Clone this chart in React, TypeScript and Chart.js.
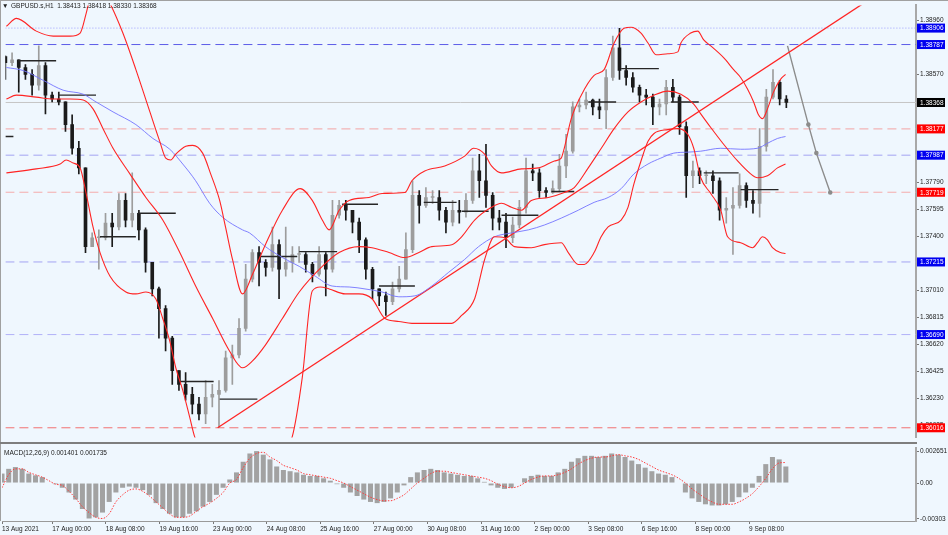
import React, { useEffect, useRef } from 'react';
import { Chart, registerables } from 'chart.js';

Chart.register(...registerables);

const W = 948;
const H = 535;
const MAIN_H = 443;
const X_MAX = 545.7;
const FONT = '"Liberation Sans", "DejaVu Sans", Arial, sans-serif';
const BG = '#eff7fe';

const hoursPerCandle = 4;
const firstOpen = 1.387;

const candleHigh = [
  1.38706, 1.38727, 1.38677, 1.38642, 1.38606, 1.38777, 1.38656, 1.38443, 1.38443, 1.38372,
  1.38279, 1.38087, 1.37895, 1.37425, 1.37447, 1.37567, 1.37567, 1.3771, 1.3771, 1.37859,
  1.37589, 1.37461, 1.37212, 1.37034, 1.36899, 1.36678, 1.36429, 1.36415, 1.36308, 1.36237,
  1.36358, 1.3633, 1.36358, 1.36571, 1.36614, 1.36806, 1.37197, 1.37304, 1.37326, 1.37233,
  1.37468, 1.37375, 1.37468, 1.37326, 1.37326, 1.37283, 1.37212, 1.37326, 1.37283, 1.3766,
  1.3766, 1.3766, 1.37589, 1.37532, 1.3739, 1.37176, 1.3702, 1.36998, 1.3707, 1.37183,
  1.37425, 1.37802, 1.37731, 1.37753, 1.37731, 1.37731, 1.3761, 1.3766, 1.3766, 1.3771,
  1.37966, 1.37994, 1.38066, 1.37717, 1.37589, 1.37567, 1.37539, 1.3766, 1.37966, 1.37923,
  1.37888, 1.37753, 1.37802, 1.37994, 1.38137, 1.38372, 1.38393, 1.38443, 1.38393, 1.38393,
  1.38606, 1.38848, 1.38905, 1.38635, 1.38585, 1.38493, 1.38464, 1.38428, 1.38393, 1.38528,
  1.38535, 1.38421, 1.38229, 1.37945, 1.37895, 1.37873, 1.37873, 1.37824, 1.37681, 1.37753,
  1.37852, 1.37788, 1.37731, 1.38179, 1.38464, 1.38606, 1.38528, 1.38418,
];

const candleLow = [
  1.38535, 1.38635, 1.38443, 1.38535, 1.38421, 1.38457, 1.38286, 1.38372, 1.3835, 1.38158,
  1.37994, 1.37852, 1.37283, 1.37326, 1.37162, 1.37375, 1.37326, 1.37447, 1.37468, 1.37468,
  1.37375, 1.37141, 1.3697, 1.36664, 1.36571, 1.3633, 1.36287, 1.36216, 1.36116, 1.36073,
  1.36045, 1.36166, 1.36016, 1.36273, 1.3633, 1.36522, 1.36714, 1.3707, 1.37041, 1.37112,
  1.37148, 1.36949, 1.37112, 1.37141, 1.37212, 1.37141, 1.3707, 1.37112, 1.3697, 1.37141,
  1.37532, 1.37518, 1.37425, 1.37283, 1.37091, 1.36949, 1.36899, 1.36828, 1.36906, 1.36998,
  1.37091, 1.37283, 1.37496, 1.3761, 1.37639, 1.37518, 1.37425, 1.37475, 1.37496, 1.37539,
  1.37639, 1.37681, 1.3761, 1.37447, 1.37447, 1.37318, 1.37354, 1.37461, 1.37567, 1.37802,
  1.37681, 1.37681, 1.3771, 1.37731, 1.37824, 1.38002, 1.383, 1.38322, 1.38279, 1.38251,
  1.38179, 1.38528, 1.38535, 1.38493, 1.38443, 1.38372, 1.3835, 1.38208, 1.38279, 1.38279,
  1.38372, 1.38137, 1.37681, 1.37753, 1.37781, 1.37781, 1.3771, 1.37518, 1.37496, 1.37269,
  1.37603, 1.3761, 1.37567, 1.37539, 1.38016, 1.38393, 1.3835, 1.3833,
];

const candleClose = [
  1.38656, 1.38677, 1.38621, 1.38571, 1.38493, 1.38635, 1.38421, 1.38393, 1.38372, 1.38208,
  1.38037, 1.37895, 1.37326, 1.3739, 1.3739, 1.37496, 1.37468, 1.3766, 1.37518, 1.37567,
  1.37447, 1.37212, 1.3702, 1.36877, 1.36664, 1.36429, 1.3633, 1.36258, 1.36187, 1.36116,
  1.36237, 1.36258, 1.36287, 1.36522, 1.36543, 1.36735, 1.37091, 1.37283, 1.37212, 1.37176,
  1.3734, 1.37162, 1.37212, 1.37269, 1.37269, 1.37197, 1.37126, 1.37269, 1.37162, 1.37553,
  1.37624, 1.37589, 1.37503, 1.37375, 1.37162, 1.3702, 1.3697, 1.36927, 1.3702, 1.37091,
  1.37304, 1.37696, 1.37624, 1.37681, 1.37681, 1.37589, 1.37503, 1.37589, 1.37575, 1.3766,
  1.37873, 1.37802, 1.37696, 1.37532, 1.37503, 1.3739, 1.37482, 1.3761, 1.37873, 1.37859,
  1.37731, 1.37717, 1.37745, 1.37909, 1.38016, 1.38336, 1.3835, 1.38386, 1.38336, 1.38315,
  1.38549, 1.38763, 1.38599, 1.38549, 1.38478, 1.38421, 1.38407, 1.38336, 1.38357, 1.38478,
  1.38407, 1.38194, 1.37838, 1.37873, 1.37838, 1.37838, 1.37802, 1.37589, 1.37603, 1.37624,
  1.37767, 1.3766, 1.37639, 1.38051, 1.38407, 1.38514, 1.38393, 1.38368,
];

const macdHist = [
  0.0008, 0.0012, 0.00135, 0.0012, 0.0008, 0.00065, 0.0005, 0.0, -0.0001, -0.0004,
  -0.0008, -0.0014, -0.0022, -0.003, -0.0029, -0.0025, -0.0016, -0.0008, -0.0004, -0.0003,
  -0.0004, -0.0006, -0.001, -0.0017, -0.0022, -0.0026, -0.0029, -0.0029, -0.0026, -0.0024,
  -0.002, -0.0016, -0.001, -0.0004, 0.0003, 0.0009, 0.0018, 0.0025, 0.0027, 0.0024,
  0.002, 0.0014, 0.0011, 0.001, 0.0009, 0.0007, 0.0006, 0.0006, 0.0004, 0.0002,
  -0.0001, -0.0004, -0.0008, -0.0011, -0.0014, -0.0016, -0.0017, -0.0016, -0.0013, -0.0008,
  -0.0002, 0.0005, 0.0009, 0.0011, 0.0012, 0.0011, 0.0009, 0.0008, 0.0007, 0.0006,
  0.0006, 0.0004, 0.0001, -0.0002, -0.0004, -0.0005, -0.0004, 0.0, 0.0004, 0.0006,
  0.0007, 0.0006, 0.0006, 0.0009, 0.0012, 0.0018, 0.0021, 0.0023, 0.0023, 0.0022,
  0.0023, 0.0025, 0.0024, 0.0022, 0.0019, 0.0016, 0.0013, 0.001, 0.0008, 0.0007,
  0.0005, 0.0, -0.0008, -0.0013, -0.0016, -0.0018, -0.0019, -0.0019, -0.0018, -0.0016,
  -0.0012, -0.0008, -0.0004, 0.0006, 0.0016, 0.0022, 0.002, 0.0014,
];

const macdSignal = [
  -0.0004, 0.0007, 0.0012, 0.0012, 0.0009, 0.0007, 0.0005, 0.0002, -0.0001, -0.0002,
  -0.0007, -0.0013, -0.002, -0.0025, -0.0029, -0.003, -0.0026, -0.0016, -0.001, -0.0006,
  -0.0005, -0.0007, -0.0011, -0.0016, -0.0021, -0.0026, -0.0029, -0.0029, -0.0028, -0.0024,
  -0.002, -0.0017, -0.0013, -0.0008, 0.0, 0.0003, 0.0013, 0.0021, 0.0025, 0.0026,
  0.0022, 0.0019, 0.0015, 0.0013, 0.0011, 0.0008, 0.0007, 0.0006, 0.0005, 0.0004,
  0.0002, 0.0, -0.0003, -0.0006, -0.0009, -0.0012, -0.0014, -0.0015, -0.0015, -0.0013,
  -0.001, -0.0005, 0.0, 0.0004, 0.0008, 0.001, 0.001, 0.0009, 0.0008, 0.0007,
  0.0006, 0.0005, 0.0004, 0.0002, -0.0001, -0.0003, -0.0004, -0.0003, 0.0, 0.0003,
  0.0005, 0.0006, 0.0006, 0.0007, 0.0009, 0.0012, 0.0016, 0.0019, 0.0021, 0.0022,
  0.0022, 0.0023, 0.0024, 0.0023, 0.0022, 0.002, 0.0017, 0.0014, 0.0011, 0.0009,
  0.0007, 0.0004, 0.0, -0.0005, -0.0009, -0.0013, -0.0016, -0.0018, -0.0018, -0.0018,
  -0.0016, -0.0013, -0.0009, -0.0003, 0.0004, 0.0012, 0.0017, 0.001735,
];

// [hour, price] traced points
const bbUpper: number[][] = [
  [0.6, 1.38919], [6.6, 1.38976], [18.5, 1.38884], [28.7, 1.38848], [38.8, 1.38848], [44.8, 1.3887],
  [48.4, 1.39012], [51.3, 1.39154], [55.5, 1.39261], [59.1, 1.39154], [62.7, 1.39083], [70.4, 1.3887],
  [78.2, 1.38606], [86.6, 1.383], [92.5, 1.38087], [96.1, 1.37966], [99.1, 1.37952], [102.1, 1.37994],
  [108.1, 1.38051], [112.2, 1.38058], [118.2, 1.38002], [123, 1.37852], [128.4, 1.3766], [131.9, 1.37468],
  [136.1, 1.37233], [142.1, 1.36984], [148.1, 1.37126], [155.8, 1.3734], [166, 1.37589], [176.7, 1.37745],
  [183.9, 1.3766], [189.9, 1.37518], [194, 1.37447], [200, 1.37589], [206, 1.3766], [217.9, 1.37681],
  [225.7, 1.3771], [239.4, 1.37717], [243.6, 1.37802], [251.3, 1.37873], [263.3, 1.37909], [275.2, 1.3798],
  [280.6, 1.38037], [287.2, 1.37994], [291.3, 1.37909], [297.3, 1.37859], [309.3, 1.37888], [319.4, 1.37895],
  [329, 1.37945], [333.1, 1.37966], [334.9, 1.38037], [339.1, 1.38251], [345.1, 1.38421], [352.8, 1.38564],
  [358.8, 1.38606], [364.8, 1.38798], [370.7, 1.38905], [374.9, 1.38912], [380.9, 1.3887], [385.1, 1.38798],
  [389.9, 1.38713], [397, 1.3872], [403, 1.38734], [404.8, 1.38798], [410.7, 1.3887], [414.9, 1.38884],
  [418.5, 1.3882], [422.7, 1.38777], [430.4, 1.38692], [436.4, 1.38606], [440.6, 1.38549], [444.8, 1.38464],
  [448.4, 1.38372], [451.3, 1.38279], [453.7, 1.38251], [456.7, 1.38322], [460.3, 1.38443], [464.5, 1.38535],
  [467.5, 1.38571],
];

const bbMiddle: number[][] = [
  [0.6, 1.38393], [6.6, 1.38421], [18.5, 1.38407], [28.7, 1.38393], [38.8, 1.38393], [46.6, 1.38386],
  [52.5, 1.38322], [58.5, 1.38179], [64.5, 1.38037], [74.6, 1.37852], [84.2, 1.37681], [94.3, 1.37518],
  [104.5, 1.37283], [114, 1.37041], [124.2, 1.36806], [134.3, 1.36571], [142.1, 1.3645], [148.1, 1.365],
  [155.8, 1.36614], [166, 1.36806], [176.1, 1.36998], [189.9, 1.37183], [200, 1.37283], [211.9, 1.37326],
  [219.7, 1.37318], [229.9, 1.37283], [239.4, 1.37247], [247.8, 1.37283], [255.5, 1.37326], [267.5, 1.3734],
  [273.4, 1.37397], [281.2, 1.37518], [291.3, 1.3761], [297.3, 1.37639], [303.3, 1.3761], [309.3, 1.37589],
  [315.2, 1.3766], [325.4, 1.37681], [334.9, 1.37717], [340.9, 1.37753], [349.3, 1.37895], [357.1, 1.38037],
  [364.8, 1.38179], [373.1, 1.383], [380.9, 1.38372], [388.7, 1.38421], [397, 1.3845], [404.8, 1.38428],
  [412.5, 1.38357], [416.7, 1.38286], [422.7, 1.38187], [430.4, 1.38066], [438.8, 1.37945], [446.6, 1.37852],
  [450.7, 1.37824], [456.7, 1.37838], [462.7, 1.37895], [467.5, 1.37923],
];

const bbLower: number[][] = [
  [0.6, 1.37859], [18.5, 1.37888], [32.8, 1.37923], [36.4, 1.37952], [40.6, 1.3793], [44.8, 1.37895],
  [48.4, 1.3771], [52.5, 1.37468], [56.7, 1.37283], [62.7, 1.37112], [72.2, 1.36998], [78.2, 1.36984],
  [84.2, 1.36998], [90.1, 1.36949], [94.3, 1.36806], [98.5, 1.36643], [102.1, 1.3645], [106.3, 1.36287],
  [110.4, 1.36095], [113.4, 1.35952], [121.2, 1.35739], [136.1, 1.35668], [154, 1.35739], [167.2, 1.35881],
  [171.9, 1.35952], [177.9, 1.36379], [183.9, 1.37005], [188.7, 1.37034], [194, 1.3702], [203.6, 1.36984],
  [211.9, 1.36984], [219.7, 1.36949], [227.5, 1.36806], [235.8, 1.36785], [243.6, 1.36771], [255.5, 1.36771],
  [267.5, 1.36771], [273.4, 1.36828], [281.2, 1.36949], [287.2, 1.37233], [293.1, 1.37397], [299.1, 1.3739],
  [305.1, 1.37326], [315.2, 1.37318], [323, 1.3734], [333.1, 1.37354], [337.3, 1.37283], [343.3, 1.37197],
  [346.9, 1.37197], [352.8, 1.37283], [357, 1.37397], [361.2, 1.37468], [369, 1.37518], [373.1, 1.3761],
  [376.7, 1.37781], [380.9, 1.37945], [385.1, 1.38087], [388.7, 1.38144], [397, 1.38172], [403, 1.38179],
  [409, 1.38137], [412.5, 1.38037], [416.7, 1.37824], [422.7, 1.3771], [428.7, 1.37589], [432.8, 1.37397],
  [440.6, 1.37354], [447.8, 1.37318], [450.7, 1.37354], [453.7, 1.37397], [456.7, 1.37375], [459.7, 1.37318],
  [464.5, 1.37283], [467.5, 1.37276],
];

const blueMA: number[][] = [
  [0.6, 1.38621], [10.7, 1.38599], [22.7, 1.38528], [34.6, 1.38457], [46.6, 1.38428], [54.3, 1.38372],
  [64.5, 1.383], [78.2, 1.38208], [88.4, 1.38108], [98.5, 1.3803], [106.3, 1.37923], [114, 1.37802],
  [122.4, 1.37639], [130.1, 1.37539], [142.1, 1.37447], [146.3, 1.37425], [155.8, 1.37326], [166, 1.37247],
  [176.1, 1.37183], [185.7, 1.37112], [195.8, 1.37041], [206, 1.37034], [215.5, 1.3702], [225.7, 1.36998],
  [235.8, 1.36963], [245.4, 1.3697], [255.5, 1.37041], [265.7, 1.37141], [275.2, 1.37233], [283.6, 1.37326],
  [293.1, 1.37397], [303.3, 1.37425], [313.4, 1.37447], [323, 1.37482], [333.1, 1.37532], [343.3, 1.37589],
  [352.8, 1.37646], [361.2, 1.37681], [369, 1.37745], [376.7, 1.37852], [385.1, 1.37923], [392.8, 1.37966],
  [400.6, 1.38002], [409, 1.38009], [416.7, 1.38016], [428.7, 1.38037], [440.6, 1.3803], [450.7, 1.38037],
  [456.7, 1.38073], [462.7, 1.38108], [467.5, 1.38122],
];

const trendLine: number[][] = [[127.2, 1.36016], [514, 1.39083]];
const projection: number[][] = [[468.7, 1.38777], [481.2, 1.38208], [486, 1.38002], [494.3, 1.37717]];

// [startHour, endHour, price]
const blackSegments: number[][] = [
  [0, 4.8, 1.38122], [7.8, 30.4, 1.3867], [31.6, 54.3, 1.38421], [56.7, 78.2, 1.37397],
  [79.4, 102.1, 1.37567], [104.5, 124.8, 1.36351], [128.4, 151, 1.36223], [152.2, 174.9, 1.37254],
  [176.1, 198.8, 1.3729], [201.8, 223.3, 1.37632], [223.9, 245.4, 1.37041], [250.7, 270.4, 1.37646],
  [273.4, 289.6, 1.37582], [297.3, 319.4, 1.37553], [327.2, 340.9, 1.37724], [349.3, 366, 1.38372],
  [369, 391.6, 1.38613], [398.8, 415.5, 1.38372], [418.5, 439.4, 1.37859], [440.6, 463.3, 1.37738],
];

const levelValues = [1.38906, 1.38787, 1.38368, 1.38177, 1.37987, 1.37719, 1.37215, 1.3669, 1.36016];
const levelLineColors = ['#9c9cff', '#5c5ce8', '#c6c6c6', '#f3a3a3', '#a4a4f2', '#f5abab', '#a4a4f2', '#b2b2f8', '#f27272'];
const levelDashes = [[1, 2], [9, 5], [], [9, 5], [9, 5], [9, 5], [9, 5], [9, 5], [9, 5]];
const levelTagColors = ['#0000f0', '#0000f0', '#000000', '#ff0000', '#0000f0', '#ff0000', '#0000f0', '#0000f0', '#ff0000'];

const priceTicks = [
  1.36035, 1.3623, 1.36425, 1.3662, 1.36815, 1.3701, 1.37205, 1.374, 1.37595, 1.3779,
  1.37985, 1.3818, 1.38375, 1.3857, 1.38765, 1.3896,
];
const macdTicks = [-0.00303, 0, 0.002651];
const macdTickLabels = ['-0.00303', '0.00', '0.002651'];

const xTickHours = [0, 30, 62, 94, 126, 158, 190, 222, 254, 286, 318, 350, 382, 414, 446];
const xTickLabels = [
  '13 Aug 2021', '17 Aug 00:00', '18 Aug 08:00', '19 Aug 16:00', '23 Aug 00:00', '24 Aug 08:00',
  '25 Aug 16:00', '27 Aug 00:00', '30 Aug 08:00', '31 Aug 16:00', '2 Sep 00:00', '3 Sep 08:00',
  '6 Sep 16:00', '8 Sep 00:00', '9 Sep 08:00',
];

const headerText = 'GBPUSD.s,H1  1.38413 1.38418 1.38330 1.38368';
const macdLabel = 'MACD(12,26,9) 0.001401 0.001735';

const toXY = (pts: number[][]) => pts.map((p) => ({ x: p[0], y: p[1] }));

export default function App() {
  const mainRef = useRef<HTMLCanvasElement>(null);
  const macdRef = useRef<HTMLCanvasElement>(null);

  useEffect(() => {
    const xs = candleClose.map((_, i) => i * hoursPerCandle);
    const opens = candleClose.map((c, i) => (i === 0 ? firstOpen : candleClose[i - 1]));
    const colorAt = (i: number) => (candleClose[i] >= opens[i] ? '#9d9d9d' : '#1b1b1b');

    const lineDs = (data: number[][], color: string, width: number) => ({
      type: 'line' as const,
      data: toXY(data),
      borderColor: color,
      borderWidth: width,
      pointRadius: 0,
      cubicInterpolationMode: 'monotone' as const,
      fill: false,
      order: 1,
    });

    const levelDs = levelValues.map((v, i) => ({
      type: 'line' as const,
      data: [{ x: 0, y: v }, { x: X_MAX, y: v }],
      borderColor: levelLineColors[i],
      borderDash: levelDashes[i],
      borderWidth: 1,
      pointRadius: 0,
      order: 3,
    }));

    const segDs = blackSegments.map((s) => ({
      type: 'line' as const,
      data: [{ x: s[0], y: s[2] }, { x: s[1], y: s[2] }],
      borderColor: '#262626',
      borderWidth: 1.4,
      pointRadius: 0,
      order: 1,
    }));

    const tagPlugin = {
      id: 'tags',
      afterDraw(chart: any) {
        const ctx = chart.ctx;
        const ys = chart.scales.y;
        const left = chart.chartArea.right + 1;
        ctx.save();
        ctx.font = `6.5px ${FONT}`;
        ctx.textBaseline = 'middle';
        levelValues.forEach((v, i) => {
          const y = ys.getPixelForValue(v);
          ctx.fillStyle = levelTagColors[i];
          ctx.fillRect(left, y - 4.5, 28, 9);
          ctx.fillStyle = '#ffffff';
          ctx.fillText(v.toFixed(5), left + 3, y + 0.5);
        });
        ctx.fillStyle = '#222';
        ctx.font = `6.5px ${FONT}`;
        ctx.textBaseline = 'top';
        ctx.fillText('\u25BC', 2, 3);
        ctx.fillText(headerText, 11, 3);
        ctx.restore();
      },
    };

    const mainChart = new Chart(mainRef.current as HTMLCanvasElement, {
      type: 'line',
      data: {
        datasets: [
          lineDs(bbUpper, '#ff2424', 1.1),
          lineDs(bbMiddle, '#ff2424', 1.1),
          lineDs(bbLower, '#ff2424', 1.1),
          lineDs(blueMA, '#7474ff', 0.9),
          {
            type: 'line',
            data: toXY(trendLine),
            borderColor: '#ff2424',
            borderWidth: 1.3,
            pointRadius: 0,
            order: 1,
          },
          {
            type: 'line',
            data: toXY(projection),
            borderColor: '#8c8c8c',
            backgroundColor: '#8c8c8c',
            borderWidth: 1.4,
            pointRadius: [0, 1.6, 1.6, 1.6],
            order: 1,
          },
          ...segDs,
          {
            type: 'bar',
            data: xs.map((x, i) => ({
              x,
              y: [
                Math.min(candleLow[i], opens[i], candleClose[i]),
                Math.max(candleHigh[i], opens[i], candleClose[i]),
              ],
            })),
            backgroundColor: (c: any) => colorAt(c.dataIndex),
            barThickness: 1,
            grouped: false,
            order: 2,
          },
          {
            type: 'bar',
            data: xs.map((x, i) => ({ x, y: [opens[i], candleClose[i]] })),
            backgroundColor: (c: any) => colorAt(c.dataIndex),
            barThickness: 3,
            minBarLength: 1,
            grouped: false,
            order: 2,
          },
          ...levelDs,
        ] as any,
      },
      options: {
        animation: false,
        responsive: false,
        devicePixelRatio: 1,
        events: [],
        layout: { padding: { left: 2, top: 2, right: 0, bottom: 2 } },
        plugins: { legend: { display: false }, tooltip: { enabled: false } },
        scales: {
          x: { type: 'linear', min: 0, max: X_MAX, offset: false, display: false, grid: { offset: false } },
          y: {
            type: 'linear',
            position: 'right',
            min: 1.35945,
            max: 1.3907,
            afterFit: (s: any) => {
              s.width = 32;
            },
            afterBuildTicks: (s: any) => {
              s.ticks = priceTicks.map((v) => ({ value: v }));
            },
            ticks: {
              font: { family: FONT, size: 6.5 },
              color: '#222',
              padding: 1,
              callback: (v: any) => Number(v).toFixed(5),
            },
            grid: { drawOnChartArea: false, drawTicks: true, tickLength: 3, color: '#777' },
            border: { display: true, color: '#a8a8a8', width: 2 },
          },
        },
      } as any,
      plugins: [tagPlugin],
    });

    const macdLabelPlugin = {
      id: 'macdLabel',
      afterDraw(chart: any) {
        const ctx = chart.ctx;
        ctx.save();
        ctx.fillStyle = '#222';
        ctx.font = `6.5px ${FONT}`;
        ctx.textBaseline = 'top';
        ctx.fillText(macdLabel, 4, chart.chartArea.top + 2);
        ctx.restore();
      },
    };

    const macdChart = new Chart(macdRef.current as HTMLCanvasElement, {
      type: 'line',
      data: {
        datasets: [
          {
            type: 'line',
            data: xs.map((x, i) => ({ x, y: macdSignal[i] })),
            borderColor: '#ff3a3a',
            borderWidth: 1,
            borderDash: [1.5, 1.5],
            pointRadius: 0,
            cubicInterpolationMode: 'monotone',
            order: 1,
          },
          {
            type: 'bar',
            data: xs.map((x, i) => ({ x, y: macdHist[i] })),
            backgroundColor: '#a2a2a2',
            barPercentage: 0.75,
            categoryPercentage: 1,
            order: 2,
          },
        ] as any,
      },
      options: {
        animation: false,
        responsive: false,
        devicePixelRatio: 1,
        events: [],
        layout: { padding: { left: 2, top: 1, right: 0, bottom: 0 } },
        plugins: { legend: { display: false }, tooltip: { enabled: false } },
        scales: {
          x: {
            type: 'linear',
            min: 0,
            max: X_MAX,
            offset: false,
            position: 'bottom',
            afterFit: (s: any) => {
              s.height = 14;
            },
            afterBuildTicks: (s: any) => {
              s.ticks = xTickHours.map((v) => ({ value: v }));
            },
            ticks: {
              autoSkip: false,
              maxRotation: 0,
              align: 'start',
              font: { family: FONT, size: 6.5 },
              color: '#222',
              padding: 1,
              callback: (_v: any, i: number) => xTickLabels[i],
            },
            grid: { offset: false, drawOnChartArea: false, drawTicks: true, tickLength: 3, color: '#777' },
            border: { display: true, color: '#9a9a9a', width: 1 },
          },
          y: {
            type: 'linear',
            position: 'right',
            min: -0.003213,
            max: 0.002972,
            afterFit: (s: any) => {
              s.width = 32;
            },
            afterBuildTicks: (s: any) => {
              s.ticks = macdTicks.map((v) => ({ value: v }));
            },
            ticks: {
              font: { family: FONT, size: 6.5 },
              color: '#222',
              padding: 1,
              callback: (_v: any, i: number) => macdTickLabels[i],
            },
            grid: { drawOnChartArea: false, drawTicks: true, tickLength: 3, color: '#777' },
            border: { display: true, color: '#a8a8a8', width: 2 },
          },
        },
      } as any,
      plugins: [macdLabelPlugin],
    });

    return () => {
      mainChart.destroy();
      macdChart.destroy();
    };
  }, []);

  return (
    <div
      style={{
        position: 'fixed',
        left: 0,
        top: 0,
        width: W,
        height: H,
        background: BG,
        overflow: 'hidden',
      }}
    >
      <canvas ref={mainRef} width={W} height={MAIN_H} style={{ position: 'absolute', left: 0, top: 0 }} />
      <canvas ref={macdRef} width={W} height={H - MAIN_H} style={{ position: 'absolute', left: 0, top: MAIN_H }} />
      <div style={{ position: 'absolute', left: 0, top: 0, width: W, height: 1, background: '#a0a0a0' }} />
      <div style={{ position: 'absolute', left: 0, top: 0, width: 1, height: 521, background: '#a0a0a0' }} />
      <div style={{ position: 'absolute', left: 0, top: 441.5, width: 917, height: 2, background: '#7e7e7e' }} />
    </div>
  );
}
